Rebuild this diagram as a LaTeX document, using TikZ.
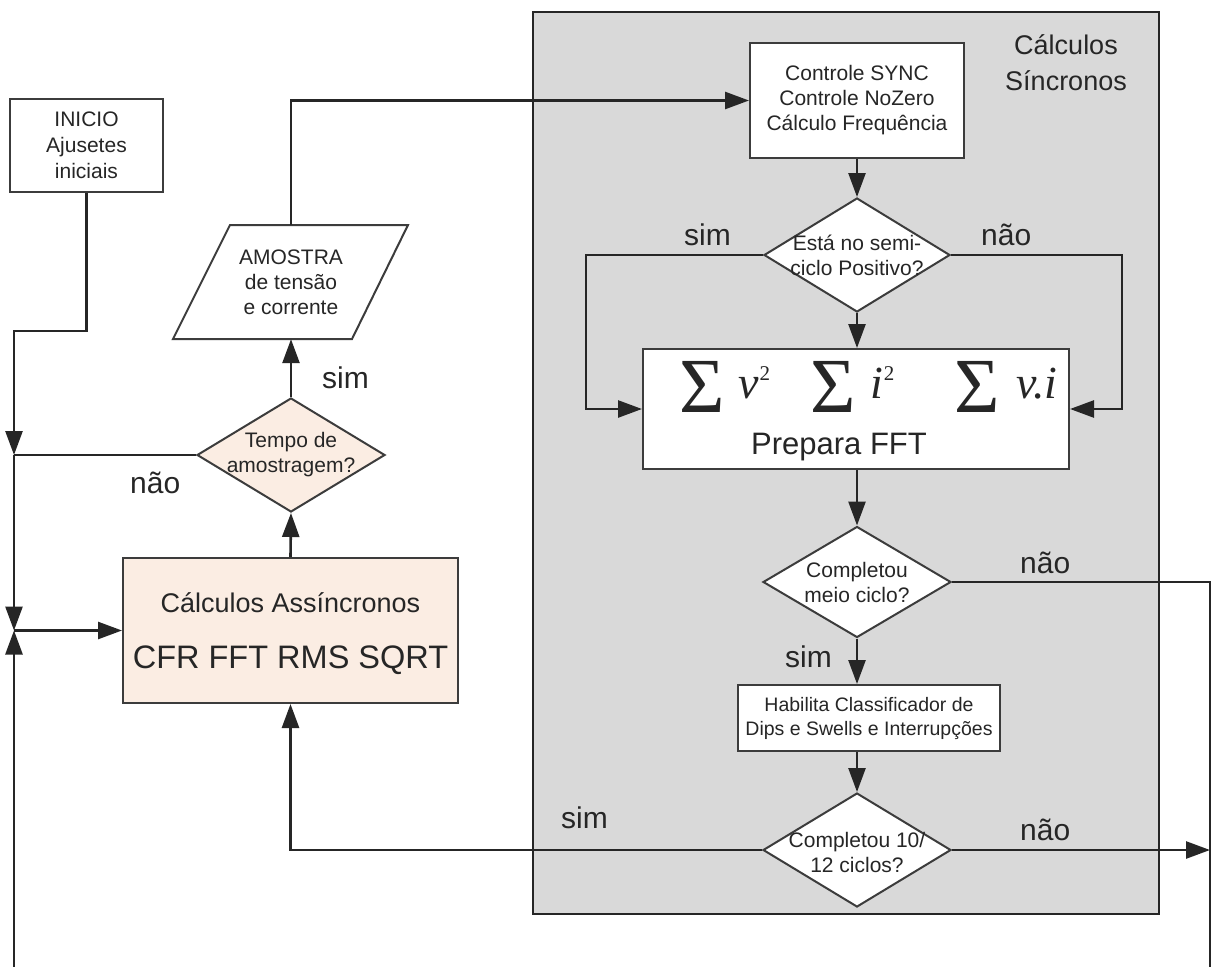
\documentclass[tikz,border=0pt]{standalone}
\usepackage{fontspec}
\setmainfont{Liberation Sans}
\newfontfamily\sumfont{Liberation Serif}
\usetikzlibrary{arrows.meta,shapes.geometric}
\definecolor{ink}{HTML}{262626}
\definecolor{peach}{HTML}{FBEDE3}
\definecolor{panel}{HTML}{D9D9D9}
\newcommand\setfs[1]{\fontsize{#1}{#1}\selectfont}

\begin{document}
\begin{tikzpicture}[x=1pt,y=-1pt,
  conn/.style={line width=2.6pt, draw=ink, -{Triangle[length=24pt,width=17pt]}},
  plain/.style={line width=2.6pt, draw=ink},
  box/.style={draw=ink!90, line width=2pt, fill=white, inner sep=0pt, align=center, text=ink},
  dia/.style={diamond, draw=ink!90, line width=2pt, fill=white, inner sep=0pt},
  dtext/.style={align=center, text=ink, font=\fontsize{21}{25}\selectfont, inner sep=0pt},
  lbl/.style={text=ink, font=\setfs{30}, inner sep=0pt, anchor=base west},
  sumsym/.style={text=ink, font=\sumfont\setfs{78}, inner sep=0pt, anchor=base},
  sumvar/.style={text=ink, font=\sumfont\itshape\setfs{46}, inner sep=0pt, anchor=base west},
]
\fill[white] (0,0) rectangle (1212,966);
\useasboundingbox (0,0) rectangle (1212,966);

% panel of the synchronous calculations
\node[draw=ink, line width=2.6pt, fill=panel, minimum width=626pt, minimum height=902pt, inner sep=0pt] (panel) at (846,463) {};
\node[text=ink, font=\setfs{27}, anchor=base, inner sep=0pt] (plbl1) at (1066,55) {Cálculos};
\node[text=ink, font=\setfs{27}, anchor=base, inner sep=0pt] (plbl2) at (1066,90) {Síncronos};

% left branch
\node[box, minimum width=153pt, minimum height=93pt, font=\fontsize{21}{26}\selectfont] (inicio) at (86.5,145.5) {INICIO\\Ajusetes\\iniciais};

\draw[draw=ink!90, line width=2pt, fill=white] (230,225) -- (408,225) -- (352,339) -- (173,339) -- cycle;
\node[minimum height=114pt, minimum width=10pt, inner sep=0pt, text=ink, align=center, font=\fontsize{21}{25}\selectfont] (amostra) at (291,282) {AMOSTRA\\de tensão\\e corrente};

\node[dia, fill=peach, minimum width=188pt, minimum height=114pt] (tempo) at (291,455) {};
\node[dtext] (tempotxt) at (tempo) {Tempo de\\amostragem?};

\node[box, fill=peach, minimum width=335pt, minimum height=145pt] (async) at (290.5,630.5) {};
\node[text=ink, anchor=base, font=\setfs{27}, inner sep=0pt] (asynct1) at (290.5,612) {Cálculos Assíncronos};
\node[text=ink, anchor=base, font=\setfs{32.5}, inner sep=0pt] (asynct2) at (290.5,668) {CFR FFT RMS SQRT};

% right branch
\node[box, minimum width=214pt, minimum height=115pt, font=\fontsize{21}{25}\selectfont] (ctrl) at (857,100.5) {Controle SYNC\\Controle NoZero\\Cálculo Frequência};

\node[dia, minimum width=186pt, minimum height=114pt] (semi) at (857,255) {};
\node[dtext] (semitxt) at (semi) {Está no semi-\\ciclo Positivo?};

\node[box, minimum width=426pt, minimum height=120pt] (sum) at (856,409) {};
\node[sumsym] (s1) at (702,412) {Σ};
\node[sumvar] (v1) at (738,398) {v\kern1pt\raisebox{18pt}{\upshape\setfs{21}2}};
\node[sumsym] (s2) at (833,412) {Σ};
\node[sumvar] (v2) at (870,398) {i\kern1pt\raisebox{18pt}{\upshape\setfs{21}2}};
\node[sumsym] (s3) at (977,412) {Σ};
\node[sumvar] (v3) at (1016,398) {v.i};
\node[text=ink, anchor=base, font=\setfs{31}, inner sep=0pt] (prep) at (839,454) {Prepara FFT};

\node[dia, minimum width=188pt, minimum height=111pt] (meio) at (857,582) {};
\node[dtext] (meiotxt) at (meio) {Completou\\meio ciclo?};

\node[box, minimum width=262pt, minimum height=66pt, font=\fontsize{19.5}{24}\selectfont] (hab) at (869,718) {Habilita Classificador de\\Dips e Swells e Interrupções};

\node[dia, minimum width=188pt, minimum height=114pt] (ciclos) at (857,850) {};
\node[dtext] (ciclostxt) at ([yshift=-2pt]ciclos.center) {Completou 10/\\12 ciclos?};

% junctions and open ends
\coordinate (j1) at (14,455);
\coordinate (j2) at (14,630.5);
\coordinate (lowL) at (14,975);
\coordinate (turnL) at (14,331);
\coordinate (lowR) at (1210,975);
\coordinate (hitR) at (1210,850);
\coordinate (sumL) at (586,409);
\coordinate (sumR) at (1122,409);

% connectors
\draw[conn] (inicio.south) |- (turnL) -- (j1);
\draw[plain] (tempo.west) -- (j1);
\draw[conn] (j1) -- (j2);
\draw[conn] (lowL) -- (j2);
\draw[conn] (j2) -- (async.west);
\draw[conn] (async.north) -- (tempo.south);
\draw[conn] (tempo.north) -- (amostra.south);
\draw[conn] (amostra.north) |- (ctrl.west);
\draw[conn] (ctrl.south) -- (semi.north);
\draw[conn] (semi.west) -| (sumL) -- (sum.west);
\draw[conn] (semi.east) -| (sumR) -- (sum.east);
\draw[conn] (semi.south) -- (semi.south |- sum.north);
\draw[conn] (sum.south -| meio.north) -- (meio.north);
\draw[plain] (meio.east) -| (lowR);
\draw[conn] (meio.south) -- (meio.south |- hab.north);
\draw[conn] (ciclos.north |- hab.south) -- (ciclos.north);
\draw[conn] (ciclos.west) -| (async.south);
\draw[conn] (ciclos.east) -- (hitR);

% branch labels
\node[lbl] (sim1) at (322,388) {sim};
\node[lbl] (nao1) at (130,493) {não};
\node[lbl] (sim2) at (684,245) {sim};
\node[lbl] (nao2) at (981,245) {não};
\node[lbl] (nao3) at (1020,573) {não};
\node[lbl] (sim3) at (785,667) {sim};
\node[lbl] (sim4) at (561,828) {sim};
\node[lbl] (nao4) at (1020,840) {não};
\end{tikzpicture}
\end{document}
